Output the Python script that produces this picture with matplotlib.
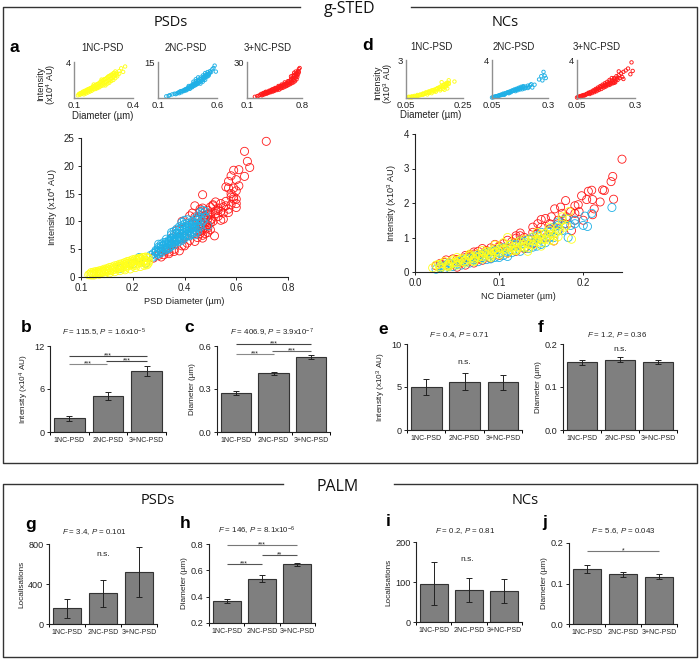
import matplotlib
matplotlib.use("Agg")
import matplotlib.pyplot as plt
from matplotlib.lines import Line2D

plt.rcParams['font.family'] = ['Liberation Sans', 'DejaVu Sans']
plt.rcParams['mathtext.fontset'] = 'custom'
plt.rcParams['mathtext.rm'] = 'Liberation Sans'
plt.rcParams['mathtext.it'] = 'Liberation Sans:italic'
plt.rcParams['mathtext.default'] = 'regular'

W, H = 700, 660
RED, BLUE, YELLOW = '#ff1a1a', '#1fb0e6', '#ffff1a'
GROUPS = ['1NC-PSD', '2NC-PSD', '3+NC-PSD']

# ---- main scatter a ----
a_red_x = [.28,.30,.31,.32,.33,.34,.35,.36,.37,.38,.39,.40,.41,.42,.43,.44,.45,.46,.47,.48,.49,.516,.50,.45,.46,.44,.47,.49,.50,.51,.52,.53,.54,.55,.56,.55,.54,.57,.58,.59,.60,.60,.59,.56,.57,.58,.60,.61,.60,.59,.61,.632,.652,.643,.632,.716,.48,.43,.39,.37,.35,.42,.47,.44,.43,.53,.50,.46,.48,.49,.51,.52,
           .445,.455,.465,.475,.485,.495,.505,.46,.47,.48,.49,.50,.45,.46,.47,.48,.49,.50,.51,.52,.53,.54,.55,.56,.57,.58,.47,.49,.41,.40,.38,.36,.34,.33,.31,.59,.60,.58,.57]
a_red_y = [3.4,3.9,4.6,4.0,5.2,4.5,5.8,5.0,6.6,4.7,5.6,7.2,6.1,6.6,7.9,6.4,7.1,8.2,7.5,8.6,9.4,7.4,9.7,10.2,11.8,12.8,12.4,11.2,11.2,12.8,13.5,12.0,13.2,11.5,13.6,10.4,10.2,11.6,13.0,14.0,12.5,14.0,16.0,16.2,17.2,18.2,17.5,16.4,15.5,19.2,19.3,18.1,19.7,20.8,22.6,24.4,7.8,9.5,10.0,8.4,7.0,11.0,9.5,10.8,11.5,10.9,8.5,9.0,11.0,10.4,10.0,11.9,
           9.6,10.8,9.4,10.6,9.2,11.4,10.4,12.2,8.6,9.8,12.0,10.2,8.2,7.8,7.0,11.8,8.8,12.6,13.0,11.4,12.4,11.8,12.6,12.8,12.2,14.4,14.8,8.0,7.6,5.6,7.0,4.6,4.2,4.8,3.6,14.4,13.2,15.0,16.0]
a_blue_x = [.225,.27,.29,.30,.31,.32,.33,.34,.35,.36,.37,.38,.39,.40,.41,.42,.43,.44,.45,.46,.47,.48,.49,.47,.39,.40,.35,.33,.30,.31,.38,.42,.44,.36,.41,.43,.45,.34,.37,.29,.28,.15,.20,.25,.35,.37,.39,.41,.43,.33,.32,.34,.36,.38,.40,.42,.44,.31,.45,.46,
            .28,.29,.30,.31,.32,.33,.34,.35,.36,.37,.38,.39,.40,.41,.42,.43,.44,.45,.46,.30,.31,.32,.33,.34,.35,.36,.37,.38,.39,.40,.41,.42,.43,.44,.45,.46,.47,.48,.32,.33,.34,.35,.36,.37,.38,.39,.40,.41,.42,.43,.44,.30,.29,.35,.36,.37,.38,.39,.40,.41]
a_blue_y = [3.5,3.9,4.8,5.4,5.0,6.2,5.8,6.6,6.0,7.2,6.5,7.8,7.0,8.4,7.6,8.9,8.2,9.6,9.0,10.5,11.4,10.8,9.2,12.0,9.8,9.5,8.0,6.8,4.5,5.9,6.4,7.6,8.6,5.8,9.2,10.0,10.2,5.4,7.8,3.9,4.2,1.5,2.4,2.5,6.9,7.2,7.6,8.2,9.0,5.0,5.2,6.1,6.6,7.0,7.4,8.0,8.0,4.4,8.2,9.4,
            3.6,4.4,4.2,4.9,5.6,5.3,5.9,6.8,6.4,7.0,7.3,7.8,8.0,8.6,8.4,8.8,9.0,9.7,9.0,5.1,5.5,5.8,6.2,6.4,6.5,7.6,7.9,8.4,8.8,8.9,9.6,9.4,9.7,10.4,10.8,11.6,10.0,11.8,4.8,5.0,5.2,5.6,6.2,6.8,6.7,6.6,7.0,7.4,7.4,7.9,7.6,5.9,4.6,7.6,8.2,8.6,9.0,9.2,10.2,10.3]
a_yel_x = [.03,.035,.04,.045,.05,.055,.06,.065,.07,.075,.08,.085,.09,.095,.10,.105,.11,.115,.12,.125,.13,.135,.14,.145,.15,.155,.16,.165,.17,.175,.18,.185,.19,.195,.20,.205,.21,.215,.22,.225,.23,.235,.24,.245,.25,.255,.26,.26,.25,.24,.23,.22,.21,.20,.19,.18,.17,.16,.15,
           .04,.05,.06,.07,.08,.09,.10,.11,.12,.13,.14,.15,.16,.17,.18,.19,.20,.21,.22,.23,.24,.25,.05,.07,.09,.11,.13,.15,.17,.19,.21,.23,.245,.255,.26,.25]
a_yel_y = [.4,.5,.35,.6,.5,.7,.6,.8,.7,.9,.8,1.0,.9,1.2,1.0,1.3,1.1,1.4,1.2,1.6,1.4,1.7,1.5,1.9,1.6,2.0,1.7,2.2,1.9,2.4,2.0,2.5,2.2,2.7,2.3,2.9,2.4,3.0,2.5,3.1,2.6,3.2,2.7,3.0,2.9,3.5,3.4,2.5,2.4,3.5,3.3,2.9,2.1,2.0,2.5,2.4,1.6,2.0,1.9,
           .8,.9,1.0,1.1,1.2,1.4,1.5,1.7,1.8,2.0,2.1,2.3,2.4,2.6,2.8,2.9,3.1,3.2,3.3,3.4,3.5,3.6,.35,.5,.6,.75,.95,1.15,1.3,1.45,1.7,1.9,2.1,2.2,2.8,3.0]

# ---- main scatter d ----
d_red_x = [.246,.235,.233,.236,.223,.225,.22,.21,.206,.198,.204,.211,.213,.211,.179,.173,.166,.19,.194,.185,.18,.175,.17,.162,.155,.15,.146,.14,.125,.12,.11,.095,.08,.07,.06,.045,.037,.03,.025,.165,.17,.155,.145,.13,.11,.09,.075,.055,.04,.178,.19,.2,.186,.16,.135,.12,.10,.085,.065,.05,
           .035,.05,.06,.065,.07,.075,.085,.09,.10,.105,.115,.12,.125,.13,.14,.15,.16,.17,.18,.19,.195,.05,.06,.07,.08,.09,.10,.11,.12,.13,.14]
d_red_y = [3.27,2.77,2.62,2.11,2.38,2.36,2.03,2.37,2.34,2.21,2.1,2.1,1.83,1.66,2.07,1.88,1.83,1.92,1.95,1.75,1.6,1.7,1.5,1.6,1.55,1.52,1.4,1.3,1.13,1.05,.92,.8,.68,.58,.48,.38,.35,.25,.18,.9,1.2,1.0,1.1,.7,.55,.5,.38,.28,.2,1.4,1.7,1.5,1.2,1.25,.95,.85,.72,.6,.45,.3,
           .28,.36,.42,.5,.52,.6,.62,.7,.75,.82,.88,.98,1.05,1.0,1.15,1.3,1.4,1.4,1.55,1.5,1.75,.14,.2,.26,.34,.4,.48,.55,.6,.68,.82]
d_blue_x = [.234,.21,.202,.205,.2,.182,.19,.185,.175,.17,.165,.16,.155,.15,.145,.14,.135,.13,.125,.12,.115,.11,.105,.10,.095,.09,.085,.08,.075,.07,.065,.06,.055,.05,.045,.04,.035,.03,.025,.17,.16,.15,.14,.13,.12,.11,.10,.09,.08,.07,
            .03,.04,.05,.06,.07,.08,.09,.10,.11,.12,.13,.14,.15,.16,.17,.18,.19,.035,.045,.055,.065,.075,.085,.095,.105,.115,.125,.135,.145,.155,.165,.175]
d_blue_y = [1.87,1.7,1.62,1.32,1.35,1.0,1.5,1.35,1.5,1.2,1.3,1.0,1.1,.95,1.05,.85,.95,.7,.9,.65,.8,.45,.7,.55,.62,.5,.55,.42,.48,.35,.4,.3,.33,.22,.25,.16,.18,.12,.08,1.45,1.15,.8,.72,.82,.75,.6,.42,.38,.46,.42,
            .18,.26,.3,.38,.46,.52,.6,.66,.72,.8,.88,1.0,1.15,1.22,1.35,1.55,1.4,.1,.16,.2,.26,.3,.36,.42,.48,.56,.6,.68,.75,.85,1.0,1.2]
d_yel_x = [.021,.025,.03,.035,.04,.045,.05,.055,.06,.065,.07,.075,.08,.085,.09,.095,.10,.11,.115,.12,.125,.13,.135,.14,.145,.15,.155,.16,.165,.17,.175,.18,.183,.186,.165,.15,.134,.11,.095,.08,.065,.05,.145,.16,.175,.105,.12,.09,.07,.04,
           .028,.032,.038,.042,.048,.052,.058,.062,.068,.072,.078,.082,.088,.092,.098,.102,.108,.112,.118,.122,.128,.132,.138,.142,.148,.152,.158,.162,.168,.172,.178,.03,.04,.05,.06,.07,.08,.09,.10,.11,.12,.13,.14,.15,.16,.17,.045,.055,.065,.075,.085,.095,.105,.115,.125,.135,.145,.155]
d_yel_y = [.12,.2,.15,.3,.22,.35,.27,.4,.33,.46,.38,.52,.45,.6,.5,.68,.58,.72,.62,.85,.72,.95,.8,1.02,.88,1.1,.95,1.2,1.05,1.3,1.5,1.35,1.75,.95,.9,.75,.6,1.0,.78,.62,.52,.42,1.15,1.3,1.6,.85,.65,.42,.3,.15,
           .22,.25,.18,.3,.28,.34,.3,.38,.42,.44,.48,.55,.56,.62,.62,.7,.66,.78,.74,.72,.8,.85,.92,.9,1.0,.95,1.05,1.1,1.15,1.2,1.3,.1,.18,.2,.26,.32,.38,.46,.5,.55,.62,.72,.78,.85,.92,1.02,.26,.36,.48,.42,.52,.56,.66,.7,.9,.7,.95,1.12]

# ---- inset scatters (x, y) ----
i1_x = [.12,.125,.13,.135,.14,.145,.15,.155,.16,.165,.17,.175,.18,.185,.19,.195,.20,.205,.21,.215,.22,.225,.23,.235,.24,.245,.25,.255,.26,.265,.27,.275,.28,.285,.29,.295,.30,.305,.31,.315,.32,.33,.34,.35,.36,.30,.28,.26,.24,.22,.20,
        .13,.14,.15,.16,.17,.18,.19,.20,.21,.22,.23,.24,.25,.26,.27,.28,.29,.30,.31,.15,.17,.19,.21,.23,.25,.27,.29,.31,.32,.33,.16,.18,.20,.22,.24,.26,.28,.30]
i1_y = [.3,.45,.35,.55,.45,.7,.55,.8,.65,.9,.75,1.0,.85,1.1,.95,1.25,1.05,1.35,1.15,1.5,1.3,1.6,1.4,1.8,1.5,1.95,1.6,2.1,1.75,2.2,1.85,2.4,2.0,2.5,2.15,2.6,2.4,2.8,2.5,2.7,2.6,3.0,3.3,2.9,3.5,2.0,1.7,1.4,2.05,1.1,1.5,
        .5,.6,.7,.8,.95,1.05,1.15,1.3,1.45,1.55,1.7,1.85,2.0,2.1,2.3,2.45,2.6,2.75,2.95,.4,.6,.8,1.0,1.2,1.4,1.6,1.9,2.2,2.4,2.7,.5,.7,.95,1.2,1.35,1.6,1.85,2.25]
i2_x = [.17,.19,.20,.22,.24,.25,.27,.28,.29,.30,.31,.32,.33,.34,.35,.36,.37,.38,.39,.40,.41,.42,.43,.44,.45,.46,.47,.48,.49,.50,.51,.52,.53,.54,.55,.56,.57,.58,.59,.48,.46,.44,.42,.50,.52,.36,.40,
        .26,.28,.30,.32,.34,.36,.38,.40,.42,.44,.46,.48,.50,.52,.54,.33,.35,.37,.39,.41,.43,.45,.47,.49,.51,.53,.38,.40,.42,.44,.46,.48,.50,.52]
i2_y = [.7,.9,1.2,1.5,1.8,1.6,2.2,2.0,2.8,2.4,3.0,2.9,3.6,3.2,4.0,4.2,3.8,5.2,4.5,6.0,5.2,7.0,5.8,7.6,6.5,8.5,7.2,9.4,8.0,10.4,8.9,10.8,10.0,11.2,10.8,12.0,12.5,13.5,11.0,6.8,6.0,8.6,7.8,7.6,9.0,5.0,6.8,
        1.9,2.5,2.9,3.3,3.8,4.6,5.0,5.6,6.2,7.0,7.8,8.6,9.4,10.0,10.5,3.2,3.6,4.4,5.0,5.8,6.4,7.2,8.0,9.0,9.8,9.4,4.4,5.0,5.4,6.0,6.8,7.6,8.6,9.4]
i3_x = [.20,.23,.25,.27,.29,.30,.32,.33,.35,.36,.37,.39,.40,.41,.43,.44,.45,.47,.48,.49,.50,.51,.52,.53,.54,.55,.56,.57,.58,.59,.60,.61,.62,.63,.64,.65,.66,.67,.68,.69,.70,.71,.72,.73,.74,.75,.76,.77,.70,.72,.66,
        .28,.31,.34,.38,.42,.46,.50,.54,.58,.62,.66,.70,.74,.30,.33,.36,.39,.42,.45,.48,.51,.54,.57,.60,.63,.66,.69,.72,.75,.35,.40,.45,.50,.55,.60,.65,.70,.68,.72,.74,.76]
i3_y = [1.0,1.5,2.0,2.6,2.2,3.6,3.0,4.6,3.6,5.0,4.2,5.8,4.8,6.5,5.4,7.6,6.0,8.2,6.6,7.4,9.0,7.0,9.8,8.0,10.2,8.4,11.0,9.0,11.6,9.6,12.2,10.2,13.0,11.0,14.0,11.6,15.0,12.4,16.5,13.0,18.0,14.0,20.0,15.5,19.0,22.5,24.0,25.0,21.0,17.0,18.0,
        3.4,4.2,5.2,6.0,7.2,8.4,10.0,11.2,13.0,14.0,16.0,19.0,21.0,2.8,3.6,4.4,5.0,5.8,6.8,7.6,8.4,9.4,10.4,11.4,12.6,13.6,15.0,18.5,20.0,4.8,6.2,7.4,8.8,9.8,10.8,12.6,15.0,18.5,22.0,17.5,21.5]
k1_x = [.06,.065,.07,.075,.08,.085,.09,.095,.10,.105,.11,.115,.12,.125,.13,.135,.14,.145,.15,.155,.16,.165,.17,.175,.18,.185,.19,.195,.20,.22,.195,.185,.17,.155,.14,.125,.19,.175,
        .06,.07,.08,.09,.10,.11,.12,.13,.14,.15,.16,.17,.18,.19,.20,.07,.09,.11,.13,.15,.17,.19,.195,.20,.185,.18]
k1_y = [.05,.06,.08,.1,.12,.13,.18,.2,.22,.26,.3,.32,.38,.42,.4,.52,.5,.62,.58,.7,.7,.82,.75,.95,.85,1.05,.9,1.2,1.4,1.3,.75,.65,.6,.5,.38,.28,1.1,1.25,
        .1,.13,.17,.24,.28,.36,.45,.52,.6,.66,.78,.88,.98,1.15,1.2,.04,.14,.26,.46,.52,.7,1.0,1.05,1.1,.9,.72]
k2_x = [.05,.055,.06,.07,.075,.08,.09,.095,.10,.105,.11,.12,.125,.13,.14,.145,.15,.155,.16,.165,.17,.175,.18,.185,.19,.195,.20,.21,.215,.22,.225,.23,.24,.26,.27,.275,.28,.285,.29,
        .06,.07,.08,.09,.10,.11,.12,.13,.14,.15,.16,.17,.18,.19,.20,.065,.085,.105,.125,.135,.155,.165,.175,.185,.21]
k2_y = [.05,.08,.1,.15,.2,.22,.3,.34,.38,.4,.45,.55,.6,.58,.72,.78,.8,.85,.9,.95,1.0,.9,1.1,1.05,1.15,1.0,1.2,1.3,1.15,1.35,1.45,1.1,1.4,1.95,2.3,1.85,2.75,2.35,2.1,
        .14,.2,.28,.36,.46,.52,.62,.7,.8,.9,.98,1.08,1.18,1.25,1.05,.16,.28,.34,.5,.62,.72,.82,1.02,.92,1.05]
k3_x = [.05,.055,.06,.065,.07,.075,.08,.09,.095,.10,.105,.11,.12,.125,.13,.135,.14,.145,.15,.155,.16,.165,.17,.175,.18,.185,.19,.195,.20,.205,.21,.215,.22,.225,.23,.235,.24,.245,.25,.26,.27,.28,.285,.29,.25,.23,.21,.19,.17,
        .06,.07,.08,.09,.10,.11,.12,.13,.14,.15,.16,.17,.18,.19,.20,.21,.22,.065,.085,.105,.115,.125,.135,.145,.155,.165,.175,.185,.195,.205,.215,.225]
k3_y = [.05,.1,.12,.18,.2,.28,.25,.38,.45,.5,.55,.65,.8,.75,.95,.9,1.1,1.0,1.25,1.15,1.4,1.3,1.55,1.4,1.7,1.5,1.9,1.6,2.1,1.7,2.1,1.8,2.3,1.9,2.4,2.1,2.6,2.2,2.75,2.9,3.1,2.5,3.75,2.85,2.0,2.8,1.6,1.4,1.2,
        .16,.24,.32,.42,.56,.6,.72,.82,.98,1.12,1.22,1.4,1.5,1.72,1.85,1.95,2.0,.1,.3,.42,.52,.62,.72,.85,.95,1.1,1.22,1.35,1.45,1.55,1.65,2.15]

# ---- bars: values and errors ----
b_val, b_err = [1.9, 5.0, 8.5], [.3, .55, .75]
c_val, c_err = [.27, .41, .525], [.015, .012, .015]
e_val, e_err = [5.0, 5.6, 5.55], [.95, 1.0, .85]
f_val, f_err = [.157, .163, .158], [.006, .006, .005]
g_val, g_err = [160, 310, 525], [95, 135, 250]
h_val, h_err = [.37, .535, .645], [.015, .027, .012]
i_val, i_err = [96, 80, 77], [53, 31, 30]
j_val, j_err = [.136, .123, .117], [.009, .006, .006]

fig = plt.figure(figsize=(W/100, H/100), dpi=100)

def pax(x0, x1, ytop, ybot):
    return fig.add_axes([x0/W, 1-ybot/H, (x1-x0)/W, (ybot-ytop)/H])

def txt(x, y, s, size, **kw):
    kw.setdefault('ha', 'center'); kw.setdefault('va', 'center')
    kw.setdefault('color', '#222222')
    fig.text(x/W, 1-y/H, s, fontsize=size, **kw)

def frame(xs, ys):
    fig.add_artist(Line2D([x/W for x in xs], [1-y/H for y in ys], color='#333333', lw=1.0))

def inset(rect, xlim, ylim, xl, yl, x, y, col):
    ax = pax(*rect)
    ax.scatter(x, y, s=6, facecolors='none', edgecolors=col, linewidths=.65, clip_on=False)
    ax.set_xlim(xlim); ax.set_ylim(ylim)
    ax.set_xticks(xlim); ax.set_xticklabels(xl, fontsize=6.8, color='#222222')
    ax.set_yticks([ylim[1]]); ax.set_yticklabels([yl], fontsize=6.8, color='#222222')
    ax.tick_params(length=0, pad=2)
    for s in ('top', 'right'):
        ax.spines[s].set_visible(False)
    for s in ('left', 'bottom'):
        ax.spines[s].set_color('#909090'); ax.spines[s].set_linewidth(1.0)

def mainplot(rect, xlim, ylim, xt, xtl, yt, series, xlabel, ylabel):
    ax = pax(*rect)
    for x, y, c in series:
        ax.scatter(x, y, s=34, facecolors='none', edgecolors=c, linewidths=.6, clip_on=False)
    ax.set_xlim(xlim); ax.set_ylim(ylim)
    ax.set_xticks(xt); ax.set_xticklabels(xtl)
    ax.set_yticks(yt)
    ax.tick_params(labelsize=7, length=2.5, width=.7, pad=2, colors='#222222')
    for s in ('top', 'right'):
        ax.spines[s].set_visible(False)
    for s in ('left', 'bottom'):
        ax.spines[s].set_linewidth(.8); ax.spines[s].set_color('#222222')
    ax.set_xlabel(xlabel, fontsize=6.6, labelpad=3, color='#222222')
    ax.set_ylabel(ylabel, fontsize=6.6, labelpad=3, color='#222222')

def barplot(rect, ylim, yticks, ytl, vals, errs, ylabel, title, title_xy, letter, letter_xy):
    ax = pax(*rect)
    ax.bar([.5, 1.5, 2.5], vals, width=.8, color='#7f7f7f', edgecolor='#333333', linewidth=.8)
    ax.errorbar([.5, 1.5, 2.5], vals, yerr=errs, fmt='none', ecolor='#222222',
                elinewidth=.7, capsize=2.2, capthick=.7, clip_on=False)
    ax.set_xlim(0, 3); ax.set_ylim(ylim)
    ax.set_xticks([0, 1, 2, 3]); ax.set_xticklabels([])
    ax.set_xticks([.5, 1.5, 2.5], minor=True)
    ax.set_xticklabels(GROUPS, minor=True, fontsize=5.0, color='#222222')
    ax.tick_params(axis='x', which='minor', length=0, pad=3.5)
    ax.tick_params(axis='x', which='major', length=2, width=.7)
    ax.set_yticks(yticks); ax.set_yticklabels(ytl)
    ax.tick_params(axis='y', labelsize=6.6, length=2.5, width=.7, pad=1.5, colors='#222222')
    for s in ('top', 'right'):
        ax.spines[s].set_visible(False)
    for s in ('left', 'bottom'):
        ax.spines[s].set_linewidth(.8); ax.spines[s].set_color('#222222')
    ax.set_ylabel(ylabel, fontsize=5.9, labelpad=2, color='#222222')
    txt(title_xy[0], title_xy[1], title, 5.7)
    txt(letter_xy[0], letter_xy[1], letter, 12.5, fontweight='bold', color='black')
    return ax

def sig(ax, x0, x1, y, label, col='#444444'):
    ax.plot([x0, x1], [y, y], color=col, lw=.8, clip_on=False, solid_capstyle='butt')
    top = ax.get_ylim()[1] - ax.get_ylim()[0]
    ax.text((x0+x1)/2, y+.005*top, label, ha='center', va='center', fontsize=5, color='#222222')

# frames and headers
frame([300, 3, 3, 697, 697, 411], [7, 7, 463, 463, 7, 7])
frame([283, 3, 3, 697, 697, 394], [484, 484, 657, 657, 484, 484])
for xy, s, size in [((350, 9), 'g-STED', 11.5), ((171, 22), 'PSDs', 10.5), ((505, 22), 'NCs', 10.5),
                    ((338, 487), 'PALM', 11.5), ((158, 500), 'PSDs', 10.5), ((525, 500), 'NCs', 10.5)]:
    txt(xy[0], xy[1], s, size, family='Open Sans', color='#111111')

# insets of a
inset((74, 133, 62, 98), (.1, .4), (0, 4), ['0.1', '0.4'], '4', i1_x, i1_y, YELLOW)
inset((158, 217, 62, 98), (.1, .6), (0, 15), ['0.1', '0.6'], '15', i2_x, i2_y, BLUE)
inset((247, 302, 62, 98), (.1, .8), (0, 30), ['0.1', '0.8'], '30', i3_x, i3_y, RED)
for x, s in [(103, '1NC-PSD'), (186, '2NC-PSD'), (268, '3+NC-PSD')]:
    txt(x, 48, s, 6.9)
txt(47, 84, 'Intensity\n(x10$^4$ AU)', 6.6, rotation=90, linespacing=1.0)
txt(103, 116, 'Diameter (µm)', 6.9)
txt(14, 47, 'a', 12.5, fontweight='bold', color='black')

# insets of d
inset((406, 463, 60, 98), (.05, .25), (0, 3), ['0.05', '0.25'], '3', k1_x, k1_y, YELLOW)
inset((492, 548, 60, 98), (.05, .3), (0, 4), ['0.05', '0.3'], '4', k2_x, k2_y, BLUE)
inset((577, 635, 60, 98), (.05, .3), (0, 4), ['0.05', '0.3'], '4', k3_x, k3_y, RED)
for x, s in [(431, '1NC-PSD'), (514, '2NC-PSD'), (597, '3+NC-PSD')]:
    txt(x, 47, s, 6.9)
txt(384, 83, 'Intensity\n(x10$^3$ AU)', 6.6, rotation=90, linespacing=1.0)
txt(431, 115.5, 'Diameter (µm)', 6.9)
txt(368, 46, 'd', 12.5, fontweight='bold', color='black')

# main scatters
mainplot((81, 288, 138, 277), (0, .8), (0, 25), [0, .2, .4, .6, .8],
         ['0.1', '0.2', '0.4', '0.6', '0.8'], [0, 5, 10, 15, 20, 25],
         [(a_red_x, a_red_y, RED), (a_blue_x, a_blue_y, BLUE), (a_yel_x, a_yel_y, YELLOW)],
         'PSD Diameter (µm)', 'Intensity (x10$^4$ AU)')
mainplot((415, 622, 134, 272), (0, .246), (0, 4), [0, .1, .2],
         ['0.0', '0.1', '0.2'], [0, 1, 2, 3, 4],
         [(d_red_x, d_red_y, RED), (d_blue_x, d_blue_y, BLUE), (d_yel_x, d_yel_y, YELLOW)],
         'NC Diameter (µm)', 'Intensity (x10$^3$ AU)')

# bars
ax = barplot((50, 166, 346, 432), (0, 12), [0, 6, 12], ['0', '6', '12'], b_val, b_err,
             'Intensity (x10$^4$ AU)', '$\\it{F}$ = 115.5, $\\it{P}$ = 1.6x10$^{-5}$', (104, 333), 'b', (26, 327))
sig(ax, .5, 2.5, 10.6, '***'); sig(ax, .5, 1.48, 9.5, '***', '#8a8a8a'); sig(ax, 1.45, 2.5, 9.85, '***')
ax = barplot((217, 330, 346, 432), (0, .6), [0, .3, .6], ['0.0', '0.3', '0.6'], c_val, c_err,
             'Diameter (µm)', '$\\it{F}$ = 406.9, $\\it{P}$ = 3.9x10$^{-7}$', (272, 333), 'c', (189, 328))
sig(ax, .5, 2.5, .612, '***'); sig(ax, .5, 1.5, .545, '***', '#8a8a8a'); sig(ax, 1.45, 2.5, .565, '***', '#666666')
ax = barplot((407, 522, 344, 430), (0, 10), [0, 5, 10], ['0', '5', '10'], e_val, e_err,
             'Intensity (x10$^3$ AU)', '$\\it{F}$ = 0.4, $\\it{P}$ = 0.71', (459, 335), 'e', (383, 329))
ax.text(1.5, 7.8, 'n.s.', ha='center', va='center', fontsize=6, color='#222222')
ax = barplot((563, 677, 344, 430), (0, .2), [0, .1, .2], ['0.0', '0.1', '0.2'], f_val, f_err,
             'Diameter (µm)', '$\\it{F}$ = 1.2, $\\it{P}$ = 0.36', (617, 335), 'f', (541, 327))
ax.text(1.5, .188, 'n.s.', ha='center', va='center', fontsize=6, color='#222222')
ax = barplot((49, 157, 544, 624), (0, 800), [0, 400, 800], ['0', '400', '800'], g_val, g_err,
             'Localisations', '$\\it{F}$ = 3.4, $\\it{P}$ = 0.101', (94, 532), 'g', (31, 525))
ax.text(1.5, 695, 'n.s.', ha='center', va='center', fontsize=6, color='#222222')
ax = barplot((209, 315, 544, 623), (.2, .8), [.2, .4, .6, .8], ['0.2', '0.4', '0.6', '0.8'], h_val, h_err,
             'Diameter (µm)', '$\\it{F}$ = 146, $\\it{P}$ = 8.1x10$^{-6}$', (257, 531), 'h', (185, 523))
sig(ax, .5, 2.5, .79, '***', '#777777'); sig(ax, .5, 1.5, .645, '***', '#555555'); sig(ax, 1.5, 2.5, .715, '**', '#555555')
ax = barplot((416, 522, 542, 622), (0, 200), [0, 100, 200], ['0', '100', '200'], i_val, i_err,
             'Localisations', '$\\it{F}$ = 0.2, $\\it{P}$ = 0.81', (465, 531), 'i', (388, 522))
ax.text(1.45, 157, 'n.s.', ha='center', va='center', fontsize=6, color='#222222')
ax = barplot((569, 677, 543, 624), (0, .2), [0, .1, .2], ['0.0', '0.1', '0.2'], j_val, j_err,
             'Diameter (µm)', '$\\it{F}$ = 5.6, $\\it{P}$ = 0.043', (623, 531), 'j', (545, 523))
sig(ax, .5, 2.5, .18, '*', '#777777')

fig.savefig('out.png', dpi=100)
